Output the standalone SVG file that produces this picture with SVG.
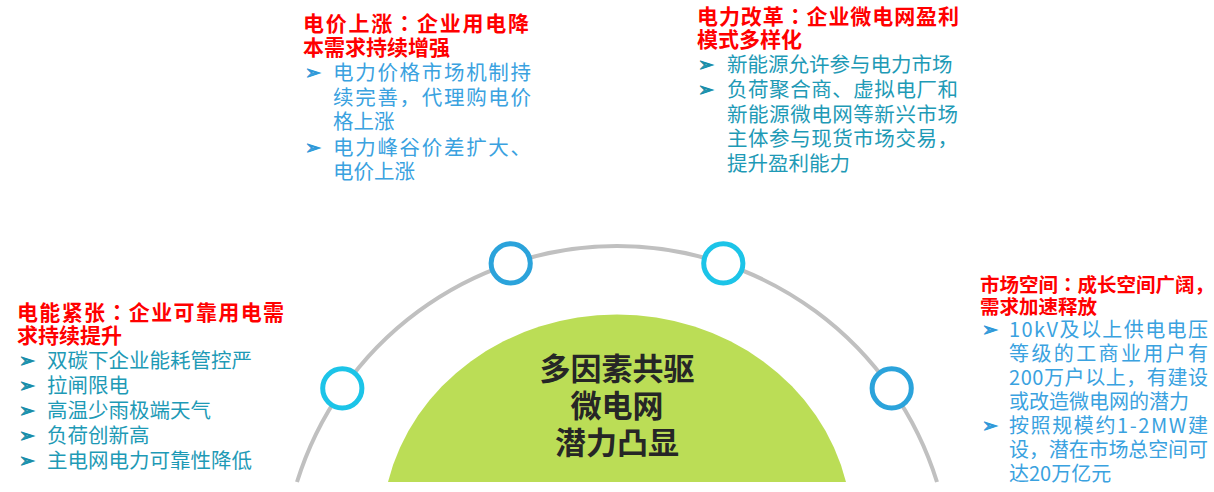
<svg xmlns="http://www.w3.org/2000/svg" width="1214" height="492" viewBox="0 0 1214 492">
<style>
text{font-family:"Noto Sans CJK SC","Noto Sans",sans-serif}
.ttl{font-weight:bold;fill:#FF0000;font-size:21px}
.ttl2{font-weight:bold;fill:#FF0000;font-size:19.5px}
.cn{font-family:"Noto Sans CJK TC","Noto Sans CJK SC",sans-serif}
.b{font-size:20.5px}
.b2{font-size:20px}
.teal{fill:#1E9AB6}
.blue{fill:#3AA2DF}
.arr{font-family:"DejaVu Sans",sans-serif;font-size:19px;stroke-width:0.9}
.arr.teal{stroke:#1A8DA8}
.arr.blue{stroke:#2F98D8}
.ring{fill:#FFFFFF;stroke-width:5}
.rb{stroke:#2BA3DB}
.rc{stroke:#1CC4E8}
.ctr{font-weight:bold;font-size:31px;fill:#262626;text-anchor:middle}
</style>
<rect width="1214" height="492" fill="#FFFFFF"/>
<g id="connectors">
<path d="M297,482 A335,335 0 0 1 937,482" fill="none" stroke="#C0C0C0" stroke-width="4"/>
</g>
<g id="center">
<path d="M388,482 A235,216 0 0 1 846,482 Z" fill="#BBDD56"/>
<text class="ctr" x="617" y="380">多因素共驱</text>
<text class="ctr" x="617" y="417">微电网</text>
<text class="ctr" x="617" y="454">潜力凸显</text>
</g>
<g id="dot-left"><circle class="ring rc" cx="342.3" cy="388.3" r="19.6"/></g>
<g id="dot-topleft"><circle class="ring rb" cx="510.7" cy="263.3" r="19.6"/></g>
<g id="dot-topright"><circle class="ring rc" cx="723.3" cy="263.3" r="19.6"/></g>
<g id="dot-right"><circle class="ring rb" cx="891.7" cy="388.3" r="19.6"/></g>
<g id="block-left">
<text class="ttl" x="17" y="320" textLength="267" lengthAdjust="spacing">电能紧张<tspan class="cn">：</tspan>企业可靠用电需</text>
<text class="ttl" x="17" y="343">求持续提升</text>
<text class="arr teal" x="19" y="367">➢</text>
<text class="arr teal" x="19" y="392">➢</text>
<text class="arr teal" x="19" y="417">➢</text>
<text class="arr teal" x="19" y="442">➢</text>
<text class="arr teal" x="19" y="467">➢</text>
<text class="b teal" x="47" y="368">双碳下企业能耗管控严</text>
<text class="b teal" x="47" y="393">拉闸限电</text>
<text class="b teal" x="47" y="418">高温少雨极端天气</text>
<text class="b teal" x="47" y="443">负荷创新高</text>
<text class="b teal" x="47" y="468">主电网电力可靠性降低</text>
</g>
<g id="block-topleft">
<text class="ttl" x="303" y="31" textLength="226" lengthAdjust="spacing">电价上涨<tspan class="cn">：</tspan>企业用电降</text>
<text class="ttl" x="303" y="55">本需求持续增强</text>
<text class="arr blue" x="305" y="79">➢</text>
<text class="arr blue" x="305" y="154">➢</text>
<text class="b blue" x="333" y="80" textLength="198" lengthAdjust="spacing">电力价格市场机制持</text>
<text class="b blue" x="333" y="105" textLength="198" lengthAdjust="spacing">续完善，代理购电价</text>
<text class="b blue" x="333" y="129">格上涨</text>
<text class="b blue" x="333" y="155" textLength="198" lengthAdjust="spacing">电力峰谷价差扩大、</text>
<text class="b blue" x="333" y="179">电价上涨</text>
</g>
<g id="block-topright">
<text class="ttl" x="697" y="23.5" textLength="262" lengthAdjust="spacing">电力改革<tspan class="cn">：</tspan>企业微电网盈利</text>
<text class="ttl" x="697" y="46.5">模式多样化</text>
<text class="arr teal" x="698" y="71">➢</text>
<text class="arr teal" x="698" y="96">➢</text>
<text class="b teal" x="727" y="72">新能源允许参与电力市场</text>
<text class="b teal" x="727" y="97" textLength="231" lengthAdjust="spacing">负荷聚合商、虚拟电厂和</text>
<text class="b teal" x="727" y="121.5" textLength="231" lengthAdjust="spacing">新能源微电网等新兴市场</text>
<text class="b teal" x="727" y="146" textLength="231" lengthAdjust="spacing">主体参与现货市场交易，</text>
<text class="b teal" x="727" y="170.5">提升盈利能力</text>
</g>
<g id="block-right">
<text class="ttl2" x="980" y="291.5">市场空间<tspan class="cn">：</tspan>成长空间广阔，</text>
<text class="ttl2" x="980" y="313.5">需求加速释放</text>
<text class="arr blue" x="982" y="336">➢</text>
<text class="arr blue" x="982" y="432">➢</text>
<text class="b2 blue" x="1009" y="337" textLength="199" lengthAdjust="spacing">10kV及以上供电电压</text>
<text class="b2 blue" x="1009" y="361" textLength="199" lengthAdjust="spacing">等级的工商业用户有</text>
<text class="b2 blue" x="1009" y="385" textLength="199" lengthAdjust="spacing">200万户以上，有建设</text>
<text class="b2 blue" x="1009" y="409">或改造微电网的潜力</text>
<text class="b2 blue" x="1009" y="433" textLength="199" lengthAdjust="spacing">按照规模约1-2MW建</text>
<text class="b2 blue" x="1009" y="457" textLength="199" lengthAdjust="spacing">设，潜在市场总空间可</text>
<text class="b2 blue" x="1009" y="481">达20万亿元</text>
</g>
</svg>
